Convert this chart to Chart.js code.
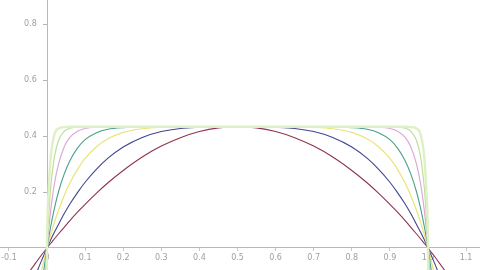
<!DOCTYPE html>
<html>
<head>
<meta charset="utf-8">
<script src="https://cdn.jsdelivr.net/npm/chart.js@4/dist/chart.umd.min.js"></script>
<style>
  html, body { margin: 0; padding: 0; background: #fff; }
  #wrap { width: 480px; height: 270px; }
</style>
</head>
<body>
<div id="wrap"><canvas id="graph_curves" width="480" height="270"></canvas></div>
<script>
const xs = [-0.06, -0.03, -0.015, 0, 0.005, 0.01, 0.02, 0.03, 0.045, 0.06, 0.08, 0.1, 0.13, 0.16, 0.2, 0.25, 0.3, 0.35, 0.4, 0.45, 0.5,
            0.55, 0.6, 0.65, 0.7, 0.75, 0.8, 0.84, 0.87, 0.9, 0.92, 0.94, 0.955, 0.97, 0.98, 0.99, 0.995, 1, 1.015, 1.03, 1.06];

// curves, innermost (round) to outermost (square)
const maroonY = [-0.110, -0.054, -0.026, 0, 0.009, 0.017, 0.034, 0.050, 0.074, 0.098, 0.128, 0.156, 0.196, 0.233, 0.277, 0.325, 0.364, 0.394, 0.416, 0.429, 0.433,
                 0.429, 0.416, 0.394, 0.364, 0.325, 0.277, 0.233, 0.196, 0.156, 0.128, 0.098, 0.074, 0.050, 0.034, 0.017, 0.009, 0, -0.026, -0.054, -0.110];
const navyY = [-0.211, -0.098, -0.047, 0, 0.015, 0.030, 0.058, 0.084, 0.122, 0.157, 0.198, 0.235, 0.282, 0.321, 0.361, 0.395, 0.416, 0.427, 0.431, 0.433, 0.433,
               0.433, 0.431, 0.427, 0.416, 0.395, 0.361, 0.321, 0.282, 0.235, 0.198, 0.157, 0.122, 0.084, 0.058, 0.030, 0.015, 0, -0.047, -0.098, -0.211];
const yellowY = [-0.422, -0.181, -0.084, 0, 0.025, 0.049, 0.094, 0.134, 0.187, 0.232, 0.281, 0.320, 0.362, 0.390, 0.413, 0.426, 0.431, 0.433, 0.433, 0.433, 0.433,
                 0.433, 0.433, 0.433, 0.431, 0.426, 0.413, 0.390, 0.362, 0.320, 0.281, 0.232, 0.187, 0.134, 0.094, 0.049, 0.025, 0, -0.084, -0.181, -0.422];
const tealY = [-0.912, -0.342, -0.149, 0, 0.041, 0.079, 0.145, 0.200, 0.264, 0.312, 0.357, 0.387, 0.412, 0.424, 0.430, 0.433, 0.433, 0.433, 0.433, 0.433, 0.433,
               0.433, 0.433, 0.433, 0.433, 0.433, 0.430, 0.424, 0.412, 0.387, 0.357, 0.312, 0.264, 0.200, 0.145, 0.079, 0.041, 0, -0.149, -0.342, -0.912];
const pinkY = [-3.29, -0.877, -0.326, 0, 0.075, 0.138, 0.234, 0.299, 0.361, 0.395, 0.417, 0.427, 0.432, 0.433, 0.433, 0.433, 0.433, 0.433, 0.433, 0.433, 0.433,
               0.433, 0.433, 0.433, 0.433, 0.433, 0.433, 0.433, 0.432, 0.427, 0.417, 0.395, 0.361, 0.299, 0.234, 0.138, 0.075, 0, -0.326, -0.877, -3.29];
const greenY = [-20, -2.89, -0.785, 0, 0.128, 0.220, 0.329, 0.383, 0.417, 0.428, 0.432, 0.433, 0.433, 0.433, 0.433, 0.433, 0.433, 0.433, 0.433, 0.433, 0.433,
                0.433, 0.433, 0.433, 0.433, 0.433, 0.433, 0.433, 0.433, 0.433, 0.432, 0.428, 0.417, 0.383, 0.329, 0.220, 0.128, 0, -0.785, -2.89, -20];
const paleY = [-40, -8, -3.0, 0, 0.219, 0.328, 0.408, 0.427, 0.432, 0.433, 0.433, 0.433, 0.433, 0.433, 0.433, 0.433, 0.433, 0.433, 0.433, 0.433, 0.433,
               0.433, 0.433, 0.433, 0.433, 0.433, 0.433, 0.433, 0.433, 0.433, 0.433, 0.433, 0.432, 0.427, 0.408, 0.328, 0.219, 0, -3.0, -8, -40];

const seriesList = [
    { data: paleY,   color: "#dff0c4", width: 2.4 },
    { data: greenY,  color: "#bfe09c", width: 1.2 },
    { data: pinkY,   color: "#dcaad9", width: 1.2 },
    { data: tealY,   color: "#4a9f8a", width: 1.1 },
    { data: yellowY, color: "#e9e47a", width: 1.2 },
    { data: navyY,   color: "#424592", width: 1.1 },
    { data: maroonY, color: "#8f3450", width: 1.1 }
];

function toPoints(ys) {
    return xs.map(function(x, i) {
        return { x: x, y: ys[i] };
    });
}

// axes cross at the origin, so they must not take any room from the plot
function noRoom(scale) {
    if (scale.isHorizontal()) {
        scale.height = 0;
    } else {
        scale.width = 0;
    }
    scale.paddingTop = 0;
    scale.paddingBottom = 0;
    scale.paddingLeft = 0;
    scale.paddingRight = 0;
}

const ctx = document.getElementById("graph_curves").getContext("2d");
const curveChart = new Chart(ctx, {
    type: "line",
    data: {
        datasets: seriesList.map(function(s) {
            return {
                data: toPoints(s.data),
                borderColor: s.color,
                borderWidth: s.width,
                pointRadius: 0,
                fill: false,
                cubicInterpolationMode: "monotone"
            };
        })
    },
    options: {
        responsive: false,
        animation: false,
        layout: { padding: 0, autoPadding: false },
        plugins: {
            legend: { display: false },
            tooltip: { enabled: false }
        },
        scales: {
            x: {
                type: "linear",
                min: -0.1234,
                max: 1.1365,
                position: { y: 0 },
                afterFit: noRoom,
                border: { color: "#b8b8b8", width: 1 },
                grid: { drawOnChartArea: false, drawTicks: true, tickLength: 3, color: "#c8c8c8" },
                ticks: {
                    stepSize: 0.1,
                    includeBounds: false,
                    autoSkip: false,
                    maxRotation: 0,
                    padding: 2,
                    color: "#a0a0a0",
                    font: { family: "DejaVu Sans", size: 8 }
                }
            },
            y: {
                type: "linear",
                min: -0.0786,
                max: 0.886,
                position: { x: 0 },
                afterFit: noRoom,
                border: { color: "#b8b8b8", width: 1 },
                grid: { drawOnChartArea: false, drawTicks: true, tickLength: 4, color: "#b4b4b4" },
                ticks: {
                    stepSize: 0.2,
                    includeBounds: false,
                    color: "#a0a0a0",
                    font: { family: "DejaVu Sans", size: 8 },
                    callback: function(value) {
                        // right aligned on the axis, figure spaces keep it clear of the tick
                        return value === 0 ? "" : (Math.round(value * 10) / 10) + "\u2007\u2007";
                    }
                }
            }
        }
    }
});
</script>
</body>
</html>
